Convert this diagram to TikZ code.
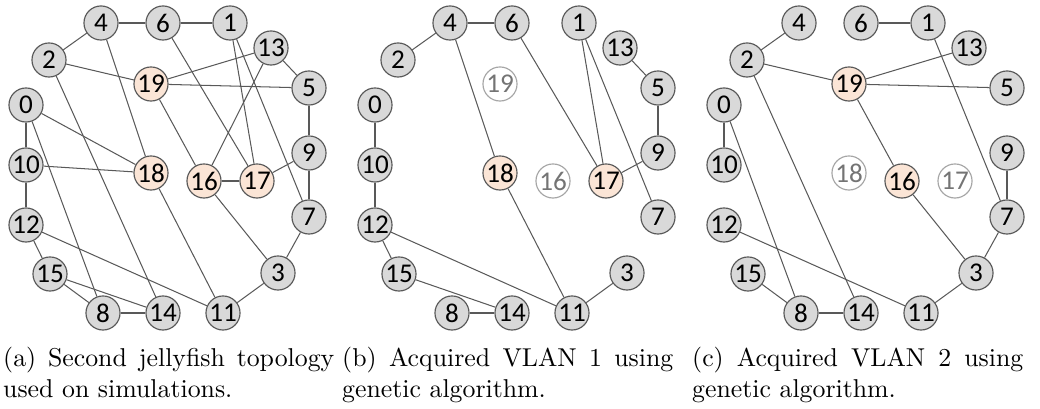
\documentclass[tikz,border=0pt]{standalone}
\usepackage{fontspec}
\newfontfamily\swfont{Carlito}
\definecolor{cNode}{HTML}{D9D9D9}
\definecolor{cHot}{HTML}{FBE5D6}
\definecolor{cLine}{HTML}{595959}
\definecolor{cOff}{HTML}{A6A6A6}
\tikzset{
  sw/.style={circle,draw=cLine,fill=cNode,line width=0.45pt,
    minimum size=13.2pt,inner sep=0pt,font=\swfont\fontsize{10.5}{10.5}\selectfont},
  sw-hot/.style={fill=cHot},
  sw-off/.style={draw=cOff,fill=white,text=cOff!70!black},
  link/.style={draw=cLine,line width=0.4pt},
  subcap/.style={text width=128.3pt,align=justify,inner sep=0pt,anchor=north west},
}
% switch positions of the jellyfish, same in every panel
\newcommand{\swpos}{0/26/105, 1/230/23, 2/49/60, 3/278/273, 4/101/23,
  5/309/88, 6/163/23, 7/309/217, 8/103/313, 9/309/153, 10/26/165,
  11/223/313, 12/26/225, 13/271/48, 14/163/313, 15/50/274, 16/204/181,
  17/257/181, 18/151/173, 19/151/84}

\begin{document}
\begin{tikzpicture}[x=0.3875pt,y=-0.3875pt]
  \useasboundingbox (0,0) rectangle (1040,409);

  % (a) full topology
  \begin{scope}[sw-16/.style=sw-hot,sw-17/.style=sw-hot,
      sw-18/.style=sw-hot,sw-19/.style=sw-hot]
    \foreach \n/\x/\y in \swpos
      \node[sw,sw-\n/.try] (a\n) at (\x,\y) {\n};
    \foreach \u/\v in {4/6,6/1,2/4,2/19,13/19,19/5,13/5,4/18,2/14,0/10,
        10/12,0/18,10/18,0/8,19/16,13/16,16/17,17/9,6/17,1/17,1/7,5/9,
        9/7,7/3,16/3,3/11,18/11,12/11,12/15,15/8,15/14,8/14}
      \draw[link] (a\u) -- (a\v);
  \end{scope}

  % (b) VLAN 1
  \begin{scope}[shift={(349,0)},sw-17/.style=sw-hot,sw-18/.style=sw-hot,
      sw-16/.style=sw-off,sw-19/.style=sw-off]
    \foreach \n/\x/\y in \swpos
      \node[sw,sw-\n/.try] (b\n) at (\x,\y) {\n};
    \foreach \u/\v in {4/6,2/4,4/18,6/17,1/17,1/7,13/5,5/9,9/17,0/10,
        10/12,12/15,12/11,15/14,8/14,18/11,3/11}
      \draw[link] (b\u) -- (b\v);
  \end{scope}

  % (c) VLAN 2
  \begin{scope}[shift={(698,0)},sw-16/.style=sw-hot,sw-19/.style=sw-hot,
      sw-17/.style=sw-off,sw-18/.style=sw-off]
    \foreach \n/\x/\y in \swpos
      \node[sw,sw-\n/.try] (c\n) at (\x,\y) {\n};
    \foreach \u/\v in {6/1,2/4,2/19,13/19,19/5,1/7,0/10,0/8,2/14,19/16,
        16/3,9/7,7/3,3/11,12/11,15/8,8/14}
      \draw[link] (c\u) -- (c\v);
  \end{scope}

  % sub-captions
  \node[subcap] (capa) at (2.7,347) {(a) Second jellyfish topology used on simulations.};
  \node[subcap] (capb) at (341.7,347) {(b) Acquired VLAN 1 using genetic algorithm.};
  \node[subcap] (capc) at (691.7,347) {(c) Acquired VLAN 2 using genetic algorithm.};
\end{tikzpicture}
\end{document}
